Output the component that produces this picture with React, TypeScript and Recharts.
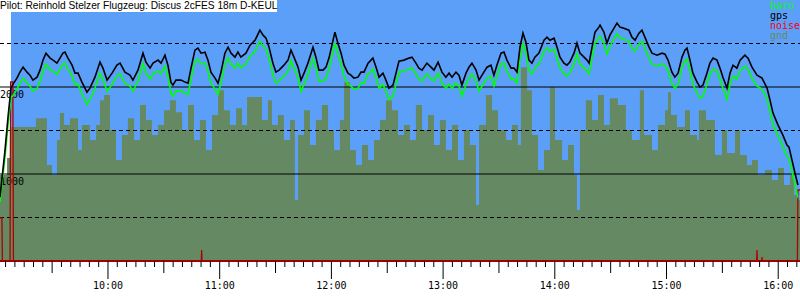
import React from 'react';
import { ComposedChart, Line, Area, XAxis, YAxis, ReferenceArea, ReferenceLine } from 'recharts';

// time in minutes since midnight, altitude in metres
const times = [
  542.0, 544.7, 546.3, 547.9, 549.0, 551.1, 552.7, 554.4, 556.5, 558.1,
  559.7, 561.9, 563.5, 565.1, 566.7, 568.9, 570.5, 572.6, 574.2, 575.8,
  576.9, 578.5, 580.7, 582.3, 583.9, 586.0, 588.7, 590.3, 593.0, 595.7,
  597.3, 599.5, 602.2, 604.8, 606.5, 609.1, 611.8, 613.4, 616.1, 618.8,
  620.4, 622.6, 624.2, 626.9, 628.5, 630.6, 632.2, 633.8, 634.9, 636.5,
  639.2, 641.4, 643.0, 644.6, 646.7, 648.3, 650.0, 652.1, 653.7, 655.3,
  657.5, 659.1, 660.7, 662.8, 664.5, 666.1, 668.2, 669.8, 671.4, 674.1,
  676.3, 679.0, 681.6, 683.3, 684.9, 686.5, 688.6, 690.2, 691.9, 694.5,
  696.7, 698.3, 699.9, 702.1, 703.7, 705.3, 707.4, 710.1, 711.7, 713.3,
  715.5, 717.1, 718.7, 720.9, 721.9, 723.5, 725.2, 726.8, 728.9, 730.5,
  732.1, 734.3, 735.9, 737.5, 739.7, 742.3, 744.0, 745.6, 747.7, 749.3,
  750.9, 753.1, 754.7, 756.3, 759.0, 761.7, 763.3, 765.4, 767.0, 768.7,
  771.3, 773.5, 775.1, 777.3, 779.4, 781.5, 783.2, 784.8, 786.9, 788.5,
  790.1, 792.3, 793.9, 795.5, 797.7, 799.3, 800.9, 803.6, 805.7, 807.3,
  808.9, 811.1, 812.7, 814.3, 816.5, 818.1, 819.7, 821.3, 822.9, 824.5,
  826.1, 827.7, 829.3, 831.5, 834.2, 835.8, 837.4, 839.6, 841.2, 842.8,
  844.9, 846.5, 848.1, 850.3, 851.9, 853.5, 855.7, 857.3, 858.4, 860.0,
  861.6, 863.7, 864.3, 866.4, 868.0, 869.6, 871.8, 873.4, 875.0, 877.1,
  879.8, 881.4, 883.1, 885.2, 886.8, 888.4, 890.6, 892.2, 894.9, 897.6,
  899.2, 900.8, 902.9, 904.5, 906.2, 908.3, 909.9, 911.0, 912.6, 914.2,
  916.4, 918.0, 919.6, 921.7, 923.3, 925.0, 927.1, 928.7, 930.3, 932.5,
  934.1, 935.7, 937.8, 939.5, 942.1, 943.8, 945.9, 948.6, 951.3, 954.0,
  955.6, 957.2, 959.9, 962.5, 964.7, 965.8, 967.4, 969.0, 970.6,
];

const gps = [
  735, 1275, 1654, 1987, 2033, 2102, 2171, 2228, 2171, 2136,
  2079, 2113, 2194, 2309, 2389, 2332, 2309, 2274, 2332, 2389,
  2401, 2332, 2251, 2159, 2159, 2056, 1941, 1987, 2113, 2286,
  2217, 2079, 2159, 2251, 2274, 2171, 2136, 2079, 2194, 2389,
  2286, 2217, 2274, 2309, 2274, 2366, 2251, 2056, 2022, 2079,
  2079, 2056, 2044, 2217, 2424, 2447, 2389, 2401, 2309, 2171,
  2102, 2044, 2171, 2389, 2458, 2389, 2343, 2401, 2343, 2389,
  2481, 2538, 2653, 2596, 2561, 2458, 2274, 2171, 2194, 2251,
  2309, 2424, 2343, 2228, 2079, 2159, 2274, 2458, 2343, 2194,
  2194, 2228, 2332, 2538, 2630, 2504, 2389, 2251, 2159, 2136,
  2102, 2113, 2171, 2171, 2274, 2332, 2228, 2113, 2159, 2079,
  1987, 2022, 2159, 2297, 2309, 2332, 2343, 2274, 2217, 2194,
  2274, 2228, 2194, 2286, 2171, 2113, 2159, 2113, 2171, 2136,
  2022, 2159, 2228, 2274, 2194, 2079, 2136, 2228, 2251, 2136,
  2251, 2389, 2401, 2309, 2217, 2217, 2171, 2458, 2619, 2515,
  2309, 2274, 2343, 2389, 2538, 2573, 2538, 2561, 2458, 2343,
  2274, 2251, 2286, 2389, 2504, 2389, 2343, 2309, 2274, 2458,
  2630, 2688, 2711, 2630, 2504, 2596, 2676, 2734, 2688, 2676,
  2653, 2573, 2538, 2619, 2653, 2573, 2458, 2389, 2366, 2389,
  2378, 2309, 2171, 2113, 2159, 2343, 2424, 2447, 2309, 2159,
  2056, 1999, 2022, 2159, 2274, 2332, 2309, 2217, 2113, 1987,
  2159, 2251, 2217, 2309, 2366, 2332, 2228, 2136, 2102, 1987,
  1849, 1700, 1562, 1447, 1332, 1309, 1160, 1011, 873,
];

const baro = [
  680, 1200, 1560, 1880, 1900, 1975, 2045, 2100, 2045, 2010,
  1950, 1985, 2065, 2180, 2260, 2200, 2180, 2145, 2205, 2262,
  2275, 2205, 2125, 2030, 2030, 1925, 1800, 1855, 1985, 2160,
  2090, 1950, 2030, 2125, 2150, 2045, 2010, 1950, 2070, 2265,
  2160, 2090, 2150, 2185, 2150, 2240, 2125, 1930, 1895, 1955,
  1955, 1930, 1915, 2090, 2300, 2320, 2265, 2275, 2185, 2045,
  1975, 1915, 2045, 2265, 2335, 2265, 2220, 2275, 2220, 2265,
  2355, 2410, 2525, 2470, 2435, 2330, 2145, 2045, 2070, 2125,
  2185, 2300, 2220, 2100, 1950, 2030, 2150, 2330, 2220, 2070,
  2070, 2100, 2205, 2410, 2505, 2380, 2265, 2125, 2030, 2010,
  1975, 1985, 2045, 2045, 2150, 2205, 2100, 1985, 2030, 1950,
  1855, 1895, 2030, 2170, 2185, 2205, 2220, 2150, 2090, 2070,
  2150, 2100, 2070, 2160, 2045, 1985, 2030, 1985, 2045, 2010,
  1895, 2030, 2100, 2150, 2070, 1950, 2010, 2100, 2125, 2010,
  2125, 2265, 2275, 2185, 2090, 2090, 2045, 2330, 2495, 2390,
  2185, 2150, 2220, 2265, 2410, 2450, 2410, 2435, 2330, 2220,
  2150, 2125, 2160, 2265, 2380, 2265, 2220, 2185, 2150, 2330,
  2505, 2565, 2585, 2505, 2380, 2470, 2550, 2610, 2565, 2550,
  2525, 2450, 2410, 2495, 2525, 2450, 2330, 2265, 2240, 2265,
  2250, 2185, 2045, 1985, 2030, 2220, 2300, 2320, 2185, 2030,
  1930, 1870, 1895, 2030, 2150, 2205, 2185, 2090, 1985, 1860,
  2030, 2125, 2090, 2185, 2240, 2205, 2100, 2010, 1975, 1860,
  1720, 1570, 1435, 1320, 1200, 1180, 1030, 880, 730,
];

const gndTimes = [
  542.0, 545.8, 547.9, 561.3, 567.2, 569.9, 572.6, 574.2, 576.4, 579.6,
  583.9, 586.0, 590.3, 593.6, 595.7, 597.9, 601.1, 604.3, 607.5, 610.7,
  614.0, 617.2, 620.4, 623.6, 626.9, 630.1, 633.3, 636.5, 639.8, 643.0,
  646.2, 649.4, 652.6, 655.9, 659.1, 662.3, 665.5, 668.8, 672.0, 674.7,
  682.7, 685.9, 688.1, 691.3, 694.5, 697.8, 700.4, 702.1, 705.3, 708.5,
  711.7, 714.9, 718.2, 721.4, 724.6, 726.8, 730.0, 733.2, 736.4, 739.7,
  742.9, 746.1, 749.3, 752.5, 755.8, 759.0, 762.2, 765.4, 768.7, 771.9,
  775.1, 778.3, 781.5, 784.8, 788.0, 791.2, 794.4, 797.7, 799.3, 803.0,
  806.3, 809.5, 813.8, 817.0, 820.2, 821.8, 825.1, 827.7, 831.0, 834.2,
  837.4, 840.1, 843.9, 847.1, 850.3, 851.9, 853.5, 856.7, 860.0, 863.2,
  866.4, 869.6, 873.9, 878.2, 881.4, 885.7, 887.9, 892.2, 895.4, 899.2,
  900.8, 902.4, 905.6, 909.9, 912.6, 916.4, 917.4, 921.2, 926.0, 929.8,
  932.5, 936.8, 939.5, 943.2, 945.9, 949.1, 952.9, 956.6, 959.9, 963.1,
  966.3, 968.5, 970.6, 971.7,
];

const gnd = [
  988, 1183, 1539, 1642, 1103, 988, 1390, 1700, 1562, 1642,
  1275, 1562, 1390, 1562, 1849, 1907, 1505, 1160, 1447, 1642,
  1390, 1792, 1620, 1447, 1562, 1734, 1849, 1711, 1505, 1792,
  1390, 1620, 1275, 1677, 1964, 1734, 1562, 1757, 1562, 1884,
  1620, 1849, 1562, 1677, 1390, 1620, 700, 1447, 1734, 1332,
  1620, 1792, 1505, 1275, 1620, 2056, 1275, 1103, 1332, 1160,
  1390, 1620, 1849, 1734, 1447, 1562, 1390, 1792, 1505, 1677,
  1332, 1620, 1275, 1562, 1160, 1505, 1332, 643, 1562, 1907,
  1734, 1505, 1390, 1562, 1332, 2228, 1964, 1447, 1045, 1275,
  1999, 1390, 1160, 1332, 988, 586, 1505, 1849, 1620, 1907,
  1562, 1872, 1792, 1505, 1390, 1964, 1447, 1275, 1562, 1734,
  1941, 1677, 1539, 1734, 1447, 1390, 1734, 1620, 1217, 1505,
  1240, 1505, 1217, 1103, 1160, 988, 1045, 930, 1068, 873,
  988, 758, 700, 700,
];

const noiseTimes = [
  542.0, 543.0, 543.3, 547.4, 547.7, 548.9, 549.2, 650.1, 650.3, 650.5,
  948.4, 948.6, 948.8, 951.1, 951.3, 951.5, 970.3, 970.6, 971.7,
];
const noise = [165, 165, 0, 0, 686, 686, 0, 0, 42, 0, 0, 42, 0, 0, 15, 0, 0, 272, 272];

const hourLabels = ['10:00', '11:00', '12:00', '13:00', '14:00', '15:00', '16:00'];
const dashedAlts = [500, 1500, 2500];
const solidAlts = [1000, 2000];
const legendItems = [
  { name: 'baro', color: '#00ff00' },
  { name: 'gps', color: '#000000' },
  { name: 'noise', color: '#ff0000' },
  { name: 'gnd', color: '#658a63' },
];
const title = 'Pilot: Reinhold Stelzer Flugzeug: Discus 2cFES 18m D-KEUL';

const startTime = 542;
const endTime = 971.7;
const takeoff = 547.9;

const mono = '"DejaVu Sans Mono", monospace';

const toMinutes = (s: string) => {
  const [h, m] = s.split(':').map(Number);
  return h * 60 + m;
};

const minuteTicks: number[] = [];
for (let m = Math.ceil(startTime / 5) * 5; m <= endTime; m += 5) minuteTicks.push(m);

const flight = times.map((t, i) => ({ t, gps: gps[i], baro: baro[i] }));
const ground = gndTimes.map((t, i) => ({ t, gnd: gnd[i] }));
const noiseData = noiseTimes.map((t, i) => ({ t, noise: noise[i] }));

const TimeTick = (props: any) => {
  const { x, y, payload } = props;
  const v = Math.round(payload.value);
  const label = hourLabels.find((h) => toMinutes(h) === v);
  const len = v % 60 === 0 ? 18 : v % 30 === 0 ? 12 : 6;
  return (
    <g>
      <line x1={x} x2={x} y1={y} y2={y + len} stroke="#000" strokeWidth={1} />
      {label && (
        <text x={x} y={y + 28} textAnchor="middle" fontFamily={mono} fontSize={10} fill="#000">
          {label}
        </text>
      )}
    </g>
  );
};

const AltLabel = (props: any) => {
  const { viewBox, value } = props;
  return (
    <text x={viewBox.x} y={viewBox.y + 11} fontFamily={mono} fontSize={10} fill="#000">
      {value}
    </text>
  );
};

const App: React.FC = () => {
  return (
    <div style={{ position: 'absolute', left: 0, top: 0, width: 800, height: 300, background: '#fff' }}>
      <ComposedChart width={800} height={300} margin={{ top: 0, right: 0, bottom: 0, left: 0 }}>
        <XAxis
          dataKey="t"
          type="number"
          domain={[startTime, endTime]}
          allowDataOverflow
          ticks={minuteTicks}
          interval={0}
          height={39}
          tick={<TimeTick />}
          tickLine={false}
          tickSize={0}
          tickMargin={0}
          axisLine={{ stroke: '#a00000', strokeWidth: 2 }}
        />
        <YAxis yAxisId="alt" hide type="number" domain={[0, 3000]} allowDataOverflow />
        <YAxis yAxisId="noise" hide type="number" domain={[0, 1000]} allowDataOverflow />
        <ReferenceArea yAxisId="alt" x1={takeoff} x2={endTime} fill="#5b9ff8" fillOpacity={1} stroke="none" />
        <Area
          yAxisId="alt"
          data={ground}
          dataKey="gnd"
          type="stepAfter"
          fill="#658a63"
          fillOpacity={1}
          stroke="none"
          isAnimationActive={false}
        />
        {dashedAlts.map((a) => (
          <ReferenceLine key={a} yAxisId="alt" y={a} stroke="#000" strokeDasharray="4 3" />
        ))}
        {solidAlts.map((a) => (
          <ReferenceLine key={a} yAxisId="alt" y={a} stroke="#000" label={<AltLabel value={String(a)} />} />
        ))}
        <Line
          yAxisId="noise"
          data={noiseData}
          dataKey="noise"
          type="linear"
          stroke="#b00000"
          strokeWidth={1.3}
          dot={false}
          isAnimationActive={false}
        />
        <Line
          yAxisId="alt"
          data={flight}
          dataKey="baro"
          type="linear"
          stroke="#00ff00"
          strokeWidth={1.6}
          dot={false}
          isAnimationActive={false}
        />
        <Line
          yAxisId="alt"
          data={flight}
          dataKey="gps"
          type="linear"
          stroke="#000"
          strokeWidth={1.6}
          dot={false}
          isAnimationActive={false}
        />
      </ComposedChart>
      <div
        style={{
          position: 'absolute',
          left: 0,
          top: 0,
          height: 12,
          lineHeight: '12px',
          background: '#fff',
          fontFamily: '"Liberation Sans", Arial, sans-serif',
          fontSize: 10.2,
          color: '#000',
          whiteSpace: 'nowrap',
        }}
      >
        {title}
      </div>
      <div style={{ position: 'absolute', left: 770, top: 1, fontFamily: mono, fontSize: 10, lineHeight: '10px' }}>
        {legendItems.map((it) => (
          <div key={it.name} style={{ color: it.color }}>
            {it.name}
          </div>
        ))}
      </div>
    </div>
  );
};

export default App;
